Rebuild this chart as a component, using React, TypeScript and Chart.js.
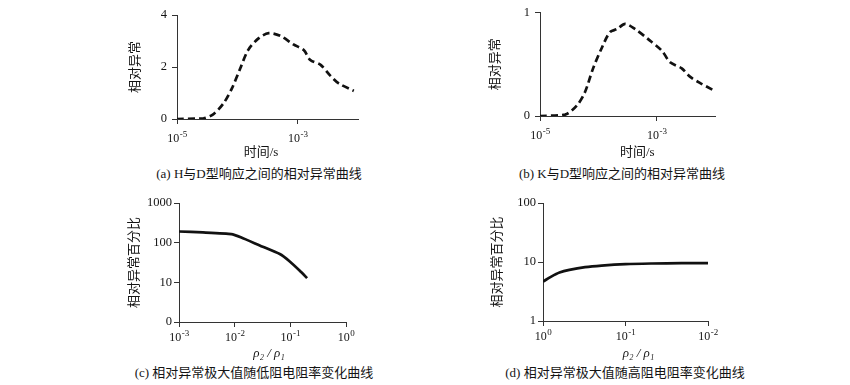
import React, { useEffect, useRef } from 'react';
import { Chart, registerables } from 'chart.js';

Chart.register(...registerables);

// ---------- data ----------
// (a) H vs D type relative anomaly
const timeA = [1e-5, 2.75e-5, 3.98e-5, 5.89e-5, 8.13e-5, 1.12e-4, 1.51e-4, 2.24e-4, 3.31e-4, 5.13e-4, 8.51e-4, 1.26e-3, 1.62e-3, 2.4e-3, 3.47e-3, 4.79e-3, 8.51e-3];
const anomalyA = [0, 0.03, 0.18, 0.6, 1.18, 1.95, 2.65, 3.1, 3.3, 3.2, 2.87, 2.65, 2.27, 2.08, 1.67, 1.37, 1.08];

// (b) K vs D type relative anomaly
const timeB = [1e-5, 2.69e-5, 4.27e-5, 5.89e-5, 8.13e-5, 1.15e-4, 1.58e-4, 2.09e-4, 2.88e-4, 4.27e-4, 7.24e-4, 1.23e-3, 1.7e-3, 2.69e-3, 3.72e-3, 5.5e-3, 9.33e-3];
const anomalyB = [0, 0.013, 0.1, 0.23, 0.46, 0.66, 0.81, 0.84, 0.89, 0.84, 0.74, 0.63, 0.52, 0.46, 0.38, 0.32, 0.25];

// (c) max relative anomaly vs low resistivity ratio
const ratioC = [1e-3, 2.69e-3, 8.71e-3, 1.32e-2, 2.82e-2, 6.46e-2, 9.77e-2, 0.148, 0.2];
const percentC = [191, 181, 165, 135, 85, 51.6, 33.6, 19.6, 12.8];

// (d) max relative anomaly vs high resistivity ratio
const ratioD = [1, 0.794, 0.631, 0.479, 0.309, 0.195, 0.1, 0.0479, 0.0209, 0.01];
const percentD = [4.66, 5.66, 6.63, 7.36, 8.18, 8.7, 9.2, 9.43, 9.55, 9.55];

// tick values
const timeTicks = [1e-5, 1e-3];
const anomalyTicksA = [0, 2, 4];
const anomalyTicksB = [0, 1];
const ratioTicksC = [1e-3, 1e-2, 1e-1, 1];
const ratioTicksD = [1, 1e-1, 1e-2];
const percentTicksC = [1, 10, 100, 1000];
const percentTicksD = [1, 10, 100];

// texts
const captionA = '(a) H与D型响应之间的相对异常曲线';
const captionB = '(b) K与D型响应之间的相对异常曲线';
const captionC = '(c) 相对异常极大值随低阻电阻率变化曲线';
const captionD = '(d) 相对异常极大值随高阻电阻率变化曲线';
const timeTitle = '时间/s';
const anomalyTitle = '相对异常';
const percentTitle = '相对异常百分比';
const ratioTitle = 'ρ₂ / ρ₁';
const EN = '\u2002';

// ---------- helpers ----------
const SERIF = '"Liberation Serif", "Times New Roman", "Noto Sans CJK SC", serif';
const TEXT = '#141414';
const AXIS = '#333333';

// draws "10" with a raised exponent under each x tick, at the scale's own tick pixels
const powerLabels = {
  id: 'powerLabels',
  afterDraw(chart: any, _args: any, opts: any) {
    const s = chart.scales.x;
    if (!s) return;
    const ctx = chart.ctx;
    ctx.save();
    ctx.fillStyle = TEXT;
    ctx.textBaseline = 'alphabetic';
    ctx.textAlign = 'left';
    for (const t of s.ticks) {
      const x = s.getPixelForValue(t.value);
      const exp = String(Math.round(Math.log10(t.value)));
      ctx.font = `12px ${SERIF}`;
      const w1 = ctx.measureText('10').width;
      ctx.font = `9px ${SERIF}`;
      const w2 = ctx.measureText(exp).width;
      const start = x - (w1 + w2) / 2;
      const base = s.top + (opts.baseline ?? 20);
      ctx.font = `12px ${SERIF}`;
      ctx.fillText('10', start, base);
      ctx.font = `9px ${SERIF}`;
      ctx.fillText(exp, start + w1 + 0.5, base - 5);
    }
    ctx.restore();
  },
};

type Box = { L: number; T: number; W: number; H: number };
type Area = { l: number; t: number; r: number; b: number };
type Panel = {
  box: Box;
  area: Area;
  xs: number[];
  ys: number[];
  xMin: number;
  xMax: number;
  xReverse: boolean;
  xTicks: number[];
  yType: 'linear' | 'logarithmic';
  yMin: number;
  yMax: number;
  yTicks: number[];
  yLabel: (v: number) => string;
  xTitle: string;
  yTitle: string;
  xTitleItalic: boolean;
  dashed: boolean;
  tension: number;
  labelBaseline: number;
  yTickPad: number;
};

const panels: Panel[] = [
  {
    box: { L: 128, T: 0, W: 240, H: 160 },
    area: { l: 177, t: 15, r: 358, b: 119 },
    xs: timeA,
    ys: anomalyA,
    xMin: 1e-5,
    xMax: 1e-2,
    xReverse: false,
    xTicks: timeTicks,
    yType: 'linear',
    yMin: 0,
    yMax: 4,
    yTicks: anomalyTicksA,
    yLabel: (v) => String(v),
    xTitle: timeTitle + EN + EN,
    yTitle: anomalyTitle,
    xTitleItalic: false,
    dashed: true,
    tension: 0.3,
    labelBaseline: 22.5,
    yTickPad: 5,
  },
  {
    box: { L: 488, T: 0, W: 237, H: 160 },
    area: { l: 540, t: 12, r: 715, b: 116 },
    xs: timeB,
    ys: anomalyB,
    xMin: 1e-5,
    xMax: 1e-2,
    xReverse: false,
    xTicks: timeTicks,
    yType: 'linear',
    yMin: 0,
    yMax: 1,
    yTicks: anomalyTicksB,
    yLabel: (v) => String(v),
    xTitle: EN + EN + EN + timeTitle,
    yTitle: anomalyTitle,
    xTitleItalic: false,
    dashed: true,
    tension: 0.3,
    labelBaseline: 22.5,
    yTickPad: 5,
  },
  {
    box: { L: 127, T: 190, W: 234, H: 171 },
    area: { l: 179, t: 203, r: 346, b: 322 },
    xs: ratioC,
    ys: percentC,
    xMin: 1e-3,
    xMax: 1,
    xReverse: false,
    xTicks: ratioTicksC,
    yType: 'logarithmic',
    yMin: 1,
    yMax: 1000,
    yTicks: percentTicksC,
    yLabel: (v) => (v === 1 ? '0' : String(v)),
    xTitle: EN + EN + ratioTitle,
    yTitle: percentTitle,
    xTitleItalic: true,
    dashed: false,
    tension: 0.15,
    labelBaseline: 18.5,
    yTickPad: 2,
  },
  {
    box: { L: 490, T: 190, W: 233, H: 171 },
    area: { l: 543, t: 203, r: 708, b: 321 },
    xs: ratioD,
    ys: percentD,
    xMin: 1e-2,
    xMax: 1,
    xReverse: true,
    xTicks: ratioTicksD,
    yType: 'logarithmic',
    yMin: 1,
    yMax: 100,
    yTicks: percentTicksD,
    yLabel: (v) => String(v),
    xTitle: EN + EN + EN + EN + ratioTitle,
    yTitle: percentTitle,
    xTitleItalic: true,
    dashed: false,
    tension: 0.3,
    labelBaseline: 19,
    yTickPad: 2,
  },
];

const captions = [
  { text: captionA, cx: 259, cy: 174 },
  { text: captionB, cx: 622, cy: 174 },
  { text: captionC, cx: 254, cy: 373 },
  { text: captionD, cx: 625, cy: 373 },
];

function PanelChart({ p }: { p: Panel }) {
  const ref = useRef<HTMLCanvasElement | null>(null);
  useEffect(() => {
    if (!ref.current) return;
    const { box, area } = p;
    const gridCfg = {
      display: true,
      drawOnChartArea: false,
      drawTicks: true,
      tickLength: 5,
      color: AXIS,
      lineWidth: 1,
    };
    const chart = new Chart(ref.current, {
      type: 'scatter',
      plugins: [powerLabels],
      data: {
        datasets: [
          {
            data: p.xs.map((x, i) => ({ x, y: p.ys[i] })),
            showLine: true,
            borderColor: '#111111',
            borderWidth: 2.7,
            borderDash: p.dashed ? [7, 4] : [],
            pointRadius: 0,
            tension: p.tension,
            fill: false,
          },
        ],
      },
      options: {
        animation: false,
        responsive: false,
        maintainAspectRatio: false,
        devicePixelRatio: 1,
        layout: {
          padding: {
            left: 0,
            top: area.t - box.T,
            right: box.L + box.W - area.r,
            bottom: 0,
          },
        },
        plugins: {
          legend: { display: false },
          tooltip: { enabled: false },
          powerLabels: { baseline: p.labelBaseline },
        },
        scales: {
          x: {
            type: 'logarithmic',
            min: p.xMin,
            max: p.xMax,
            reverse: p.xReverse,
            afterBuildTicks: (s: any) => {
              s.ticks = p.xTicks.map((v) => ({ value: v }));
            },
            afterFit: (s: any) => {
              s.height = box.T + box.H - area.b;
            },
            ticks: {
              display: false,
              autoSkip: false,
              maxRotation: 0,
              minRotation: 0,
            },
            grid: gridCfg,
            border: { display: true, color: AXIS, width: 1 },
            title: {
              display: true,
              text: p.xTitle,
              color: TEXT,
              padding: { top: 0, bottom: 0 },
              font: { family: SERIF, size: 13, style: p.xTitleItalic ? 'italic' : 'normal' },
            },
          },
          y: {
            type: p.yType,
            min: p.yMin,
            max: p.yMax,
            afterBuildTicks: (s: any) => {
              s.ticks = p.yTicks.map((v) => ({ value: v }));
            },
            afterFit: (s: any) => {
              s.width = area.l - box.L;
            },
            ticks: {
              autoSkip: false,
              padding: p.yTickPad,
              color: TEXT,
              font: { family: SERIF, size: 12.5 },
              callback: (v: any) => p.yLabel(Number(v)),
            },
            grid: gridCfg,
            border: { display: true, color: AXIS, width: 1 },
            title: {
              display: true,
              text: p.yTitle,
              color: TEXT,
              padding: { top: 0, bottom: 0 },
              font: { family: SERIF, size: 13 },
            },
          },
        },
      } as any,
    });
    return () => chart.destroy();
  }, [p]);
  return (
    <canvas
      ref={ref}
      width={p.box.W}
      height={p.box.H}
      style={{ position: 'absolute', left: p.box.L, top: p.box.T, width: p.box.W, height: p.box.H }}
    />
  );
}

export default function App() {
  return (
    <div
      style={{
        position: 'absolute',
        left: 0,
        top: 0,
        width: 850,
        height: 385,
        background: '#ffffff',
        overflow: 'hidden',
      }}
    >
      {panels.map((p, i) => (
        <PanelChart key={i} p={p} />
      ))}
      {captions.map((c, i) => (
        <div
          key={'c' + i}
          style={{
            position: 'absolute',
            left: c.cx - 200,
            top: c.cy - 8,
            width: 400,
            height: 16,
            lineHeight: '16px',
            textAlign: 'center',
            fontFamily: SERIF,
            fontSize: 13,
            color: TEXT,
            whiteSpace: 'nowrap',
          }}
        >
          {c.text}
        </div>
      ))}
    </div>
  );
}
